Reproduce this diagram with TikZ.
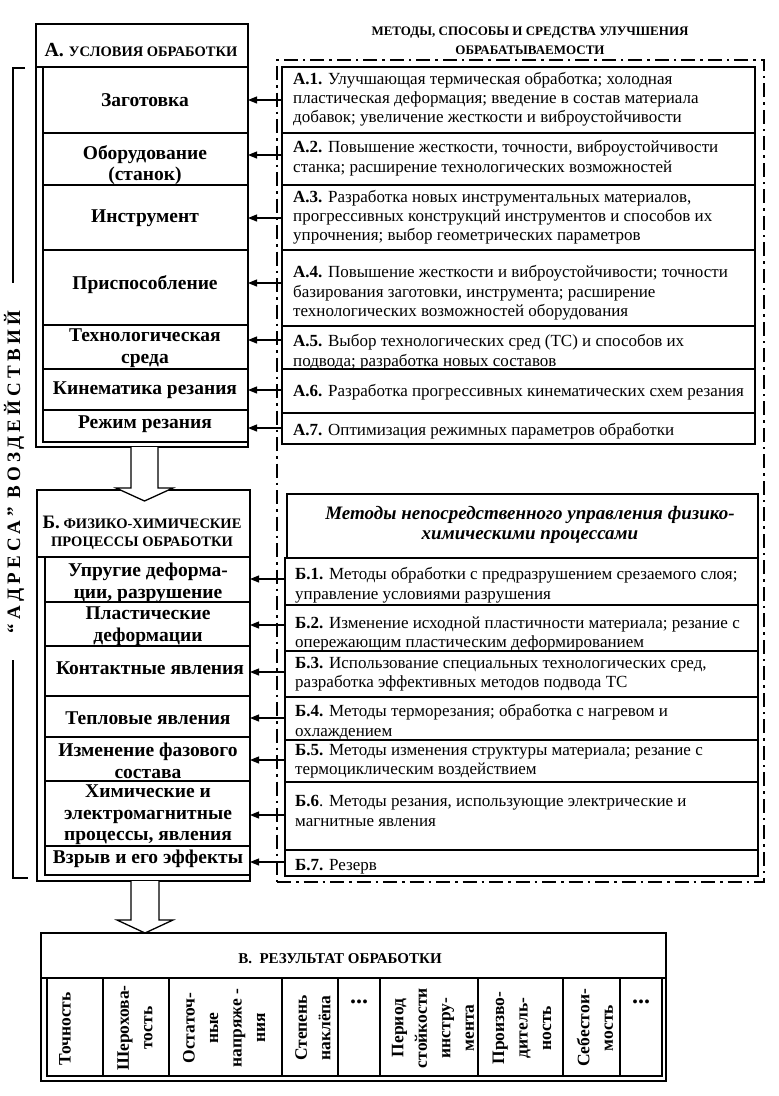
\documentclass[tikz,border=0pt]{standalone}
\usepackage{fontspec}
\setmainfont{Liberation Serif}
\usetikzlibrary{arrows.meta,fit}
\begin{document}
\begin{tikzpicture}[x=1pt,y=-1pt,
  thickbox/.style={draw, line width=2.4pt, inner sep=0pt, outer sep=0pt},
  thinbox/.style={draw, line width=1.1pt, inner sep=0pt, outer sep=0pt},
  lab/.style={font=\bfseries\fontsize{19.5}{21.5}\selectfont, align=center, inner sep=0pt},
  rtxt/.style={font=\fontsize{17}{19.5}\selectfont, align=left, anchor=west, inner sep=0pt},
  arr/.style={-{Triangle[length=9pt,width=7pt]}, line width=1.1pt},
  dd/.style={draw, line width=2pt, dash pattern=on 14pt off 5pt on 2.5pt off 5pt, inner sep=0pt, outer sep=0pt},
  hollow/.style={draw, line width=1.3pt, fill=white},
  coltxt/.style={font=\bfseries\fontsize{17.5}{23.5}\selectfont, align=center, rotate=90, inner sep=0pt},
  dots/.style={font=\bfseries\fontsize{24}{24}\selectfont, inner sep=0pt},
  bracket/.style={line width=1.2pt},
]
\useasboundingbox (0,0) rectangle (779,1096);

% ---------- dash-dot frame ----------
\node[dd, fit={(277,60) (764,882)}] (DD) {};
\node[font=\bfseries\fontsize{13}{19}\selectfont, align=center] (MH) at (530,41)
  {МЕТОДЫ, СПОСОБЫ И СРЕДСТВА УЛУЧШЕНИЯ\\ОБРАБАТЫВАЕМОСТИ};

% ---------- block A ----------
\node[thickbox, fit={(36,24) (248,447)}] (Aout) {};
\node[thickbox, fit={(36,24) (248,67)}] (Ahead) {};
\node[inner sep=0pt] (AheadT) at (141,50)
  {\bfseries\fontsize{20}{22}\selectfont А. \fontsize{14.5}{16}\selectfont УСЛОВИЯ ОБРАБОТКИ};
\node[thinbox, fit={(43,67) (248,133)}] (L1) {};
\node[thinbox, fit={(43,133) (248,185)}] (L2) {};
\node[thinbox, fit={(43,185) (248,250)}] (L3) {};
\node[thinbox, fit={(43,250) (248,325)}] (L4) {};
\node[thinbox, fit={(43,325) (248,369)}] (L5) {};
\node[thinbox, fit={(43,369) (248,410)}] (L6) {};
\node[thinbox, fit={(43,410) (248,442)}] (L7) {};
\draw[line width=2.4pt] (Aout.north east) -- (Aout.south east);
\node[lab] (tL1) at (145,100) {Заготовка};
\node[lab] (tL2) at (145,165) {Оборудование\\(станок)};
\node[lab] (tL3) at (145,218) {Инструмент};
\node[lab] (tL4) at (145,285) {Приспособление};
\node[lab] (tL5) at (145,348) {Технологическая\\среда};
\node[lab] (tL6) at (145,390) {Кинематика резания};
\node[lab] (tL7) at (145,424) {Режим резания};

% right A boxes
\node[thinbox, fit={(282,67) (755,133)}] (R1) {};
\node[thinbox, fit={(282,133) (755,185)}] (R2) {};
\node[thinbox, fit={(282,185) (755,250)}] (R3) {};
\node[thinbox, fit={(282,250) (755,326)}] (R4) {};
\node[thinbox, fit={(282,326) (755,369)}] (R5) {};
\node[thinbox, fit={(282,369) (755,413)}] (R6) {};
\node[thinbox, fit={(282,413) (755,444)}] (R7) {};
\node[rtxt, font=\fontsize{17}{19}\selectfont] (tR1) at (293,99) {\textbf{А.1.} Улучшающая термическая обработка; холодная\\пластическая деформация; введение в состав материала\\добавок; увеличение жесткости и виброустойчивости};
\node[rtxt] (tR2) at (293,158) {\textbf{А.2.} Повышение жесткости, точности, виброустойчивости\\станка; расширение технологических возможностей};
\node[rtxt, font=\fontsize{17}{19}\selectfont] (tR3) at (293,217) {\textbf{А.3.} Разработка новых инструментальных материалов,\\прогрессивных конструкций инструментов и способов их\\упрочнения; выбор геометрических параметров};
\node[rtxt] (tR4) at (293,293) {\textbf{А.4.} Повышение жесткости и виброустойчивости; точности\\базирования заготовки, инструмента; расширение\\технологических возможностей оборудования};
\node[rtxt] (tR5) at (293,352) {\textbf{А.5.} Выбор технологических сред (ТС) и способов их\\подвода; разработка новых составов};
\node[rtxt] (tR6) at (293,392) {\textbf{А.6.} Разработка прогрессивных кинематических схем резания};
\node[rtxt] (tR7) at (293,431) {\textbf{А.7.} Оптимизация режимных параметров обработки};

\coordinate (ya1) at (0,100);
\coordinate (ya2) at (0,155);
\coordinate (ya3) at (0,218);
\coordinate (ya4) at (0,283);
\coordinate (ya5) at (0,340);
\coordinate (ya6) at (0,390);
\coordinate (ya7) at (0,428);
\foreach \i in {1,...,7} {
  \draw[arr] (R\i.west |- ya\i) -- (Aout.east |- ya\i);
}

% ---------- block B ----------
\node[thickbox, fit={(37,490) (250,881)}] (Bout) {};
\node[thickbox, fit={(37,490) (250,557)}] (Bhead) {};
\node[inner sep=0pt, align=center, font=\bfseries\fontsize{14.5}{18}\selectfont] (BheadT) at (142,533)
  {{\fontsize{19}{18}\selectfont Б.} ФИЗИКО-ХИМИЧЕСКИЕ\\ПРОЦЕССЫ ОБРАБОТКИ};
\node[thinbox, fit={(45,557) (250,602)}] (K1) {};
\node[thinbox, fit={(45,602) (250,646)}] (K2) {};
\node[thinbox, fit={(45,646) (250,696)}] (K3) {};
\node[thinbox, fit={(45,696) (250,737)}] (K4) {};
\node[thinbox, fit={(45,737) (250,781)}] (K5) {};
\node[thinbox, fit={(45,781) (250,846)}] (K6) {};
\node[thinbox, fit={(45,846) (250,875)}] (K7) {};
\draw[line width=2.4pt] (Bout.north east) -- (Bout.south east);
\node[lab] (tK1) at (148,583) {Упругие деформа-\\ции, разрушение};
\node[lab] (tK2) at (148,626) {Пластические\\деформации};
\node[lab] (tK3) at (150,668) {Контактные явления};
\node[lab] (tK4) at (148,718) {Тепловые явления};
\node[lab] (tK5) at (148,761) {Изменение фазового\\состава};
\node[lab] (tK6) at (148,815) {Химические и\\электромагнитные\\процессы, явления};
\node[lab] (tK7) at (148,859) {Взрыв и его эффекты};

\node[thinbox, fit={(287,494) (758,558)}] (MB) {};
\node[font=\bfseries\itshape\fontsize{19}{20}\selectfont, align=center, inner sep=0pt] (MBt) at (530,525)
  {Методы непосредственного управления физико-\\химическими процессами};

\node[thinbox, fit={(285,558) (758,605)}] (S1) {};
\node[thinbox, fit={(285,605) (758,651)}] (S2) {};
\node[thinbox, fit={(285,651) (758,697)}] (S3) {};
\node[thinbox, fit={(285,697) (758,740)}] (S4) {};
\node[thinbox, fit={(285,740) (758,782)}] (S5) {};
\node[thinbox, fit={(285,782) (758,850)}] (S6) {};
\node[thinbox, fit={(285,850) (758,876)}] (S7) {};
\node[rtxt] (tS1) at (295,585) {\textbf{Б.1.} Методы обработки с предразрушением срезаемого слоя;\\управление условиями разрушения};
\node[rtxt] (tS2) at (295,634) {\textbf{Б.2.} Изменение исходной пластичности материала; резание с\\опережающим пластическим деформированием};
\node[rtxt] (tS3) at (295,674) {\textbf{Б.3.} Использование специальных технологических сред,\\разработка эффективных методов подвода ТС};
\node[rtxt] (tS4) at (295,722) {\textbf{Б.4.} Методы терморезания; обработка с нагревом и\\охлаждением};
\node[rtxt] (tS5) at (295,761) {\textbf{Б.5.} Методы изменения структуры материала; резание с\\термоциклическим воздействием};
\node[rtxt] (tS6) at (295,811) {\textbf{Б.6}. Методы резания, использующие электрические и\\магнитные явления};
\node[rtxt] (tS7) at (295,867) {\textbf{Б.7.} Резерв};

\coordinate (yb1) at (0,579);
\coordinate (yb2) at (0,625);
\coordinate (yb3) at (0,672);
\coordinate (yb4) at (0,718);
\coordinate (yb5) at (0,760);
\coordinate (yb6) at (0,815);
\coordinate (yb7) at (0,862);
\foreach \i in {1,...,7} {
  \draw[arr] (S\i.west |- yb\i) -- (Bout.east |- yb\i);
}

% ---------- hollow arrow A -> B ----------
\draw[hollow] ([xshift=95pt]Aout.south west) -- ++(0,41) -- ++(-15,0) -- ++(28.5,13) -- ++(28.5,-13) -- ++(-15,0) -- ([xshift=122pt]Aout.south west);

% ---------- block C ----------
\node[thickbox, fit={(41,933) (666,1081)}] (Cout) {};
\node[thickbox, fit={(41,933) (666,978)}] (Chead) {};
\node[thinbox, fit={(47,978) (662,1076)}] (Cin) {};
\node[font=\bfseries\fontsize{15}{17}\selectfont, inner sep=0pt] (CheadT) at (340,959) {В.\ \ РЕЗУЛЬТАТ ОБРАБОТКИ};
\foreach \xx in {103,169,282,338,380,478,563,620} {
  \draw[line width=1.1pt] (\xx,978) -- (\xx,1076);
}
\node[coltxt] (c1) at (65,1029) {Точность};
\node[coltxt] (c2) at (135,1028) {Шерохова-\\тость};
\node[coltxt] (c3) at (224,1028) {Остаточ-\\ные\\напряже -\\ния};
\node[coltxt] (c4) at (313,1028) {Степень\\наклёпа};
\node[dots] (c5) at (359,1002) {...};
\node[coltxt] (c6) at (433,1028) {Период\\стойкости\\инстру-\\мента};
\node[coltxt] (c7) at (522,1028) {Произво-\\дитель-\\ность};
\node[coltxt] (c8) at (595,1028) {Себестои-\\мость};
\node[dots] (c9) at (641,1002) {...};

% ---------- hollow arrow B -> C ----------
\draw[hollow] ([xshift=94pt]Bout.south west) -- ++(0,39) -- ++(-14,0) -- ++(28,13) -- ++(28,-13) -- ++(-14,0) -- ([xshift=122pt]Bout.south west);

% ---------- left bracket ----------
\node[rotate=90, inner sep=0pt, font=\bfseries\fontsize{19}{20}\selectfont\addfontfeatures{LetterSpace=22}] (BR) at (14,472) {“АДРЕСА” ВОЗДЕЙСТВИЙ};
\draw[bracket] (25,68) -- (13,68) -- (13,283);
\draw[bracket] (13,660) -- (13,878) -- (28,878);
\end{tikzpicture}
\end{document}
